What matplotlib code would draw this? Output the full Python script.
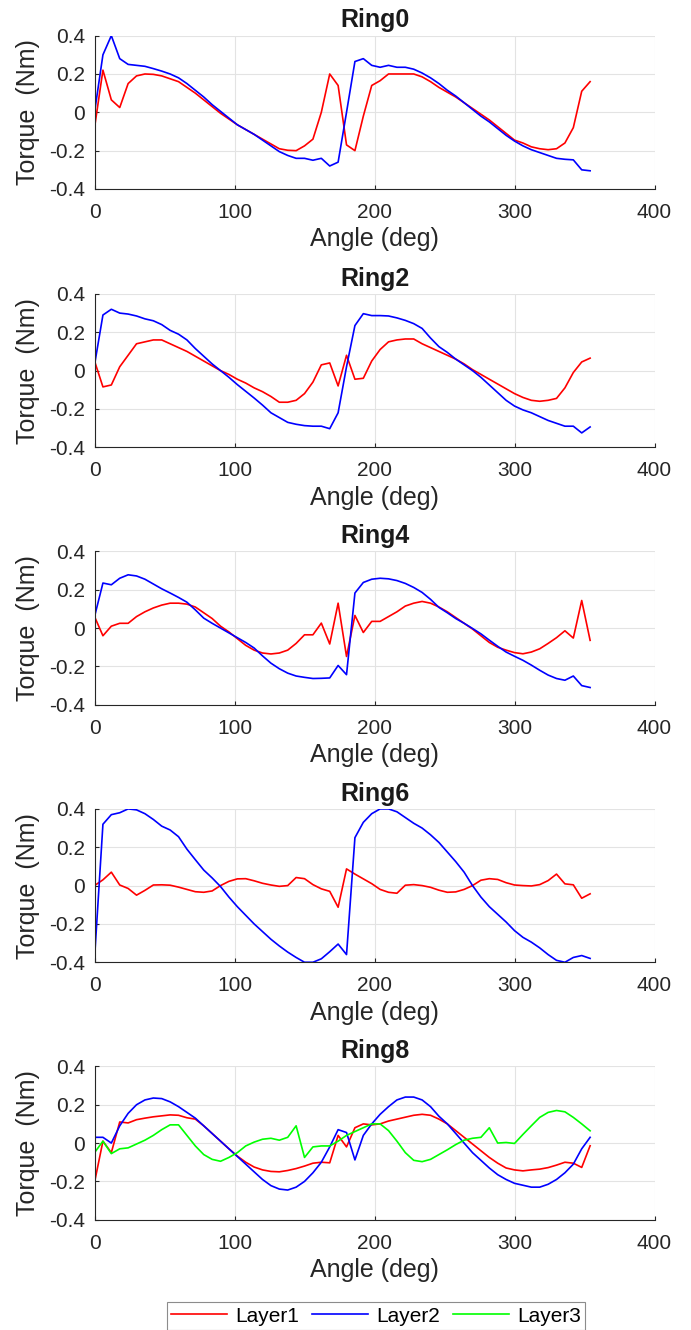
import numpy as np
import matplotlib
matplotlib.use('Agg')
import matplotlib.pyplot as plt

plt.rcParams['font.family'] = ['Liberation Sans', 'DejaVu Sans']
plt.rcParams['axes.unicode_minus'] = False

# sample angles (deg)
angle = np.arange(0, 360, 6)

ring0_layer1 = [-0.08, 0.22, 0.065, 0.025, 0.15, 0.19, 0.2, 0.198, 0.19, 0.175,
                0.16, 0.13, 0.1, 0.065, 0.03, -0.005, -0.035, -0.065, -0.09, -0.115,
                -0.14, -0.165, -0.19, -0.198, -0.2, -0.175, -0.14, 0.0, 0.2, 0.14,
                -0.17, -0.2, -0.02, 0.14, 0.165, 0.2, 0.2, 0.2, 0.2, 0.185,
                0.16, 0.13, 0.105, 0.08, 0.05, 0.02, -0.01, -0.04, -0.075, -0.11,
                -0.145, -0.16, -0.18, -0.19, -0.195, -0.19, -0.16, -0.08, 0.11, 0.16]
ring0_layer2 = [0.0, 0.3, 0.4, 0.28, 0.25, 0.245, 0.24, 0.228, 0.215, 0.2,
                0.18, 0.15, 0.115, 0.08, 0.04, 0.005, -0.03, -0.065, -0.09, -0.115,
                -0.145, -0.175, -0.205, -0.225, -0.24, -0.24, -0.25, -0.24, -0.28, -0.26,
                0.0, 0.265, 0.28, 0.245, 0.235, 0.245, 0.235, 0.235, 0.225, 0.205,
                0.18, 0.15, 0.115, 0.085, 0.05, 0.015, -0.02, -0.05, -0.085, -0.12,
                -0.15, -0.175, -0.195, -0.21, -0.225, -0.24, -0.245, -0.248, -0.3, -0.305]

ring2_layer1 = [0.05, -0.085, -0.075, 0.02, 0.08, 0.14, 0.15, 0.16, 0.16, 0.14,
                0.12, 0.1, 0.075, 0.05, 0.025, 0.0, -0.02, -0.045, -0.065, -0.09,
                -0.11, -0.135, -0.165, -0.165, -0.155, -0.12, -0.06, 0.03, 0.04, -0.08,
                0.08, -0.045, -0.04, 0.05, 0.11, 0.15, 0.16, 0.165, 0.165, 0.14,
                0.12, 0.1, 0.08, 0.06, 0.035, 0.005, -0.02, -0.045, -0.07, -0.095,
                -0.12, -0.14, -0.155, -0.16, -0.155, -0.145, -0.09, -0.01, 0.045, 0.065]
ring2_layer2 = [0.03, 0.29, 0.32, 0.3, 0.295, 0.285, 0.27, 0.26, 0.24, 0.21,
                0.19, 0.16, 0.115, 0.075, 0.035, 0.0, -0.035, -0.073, -0.108, -0.143,
                -0.18, -0.22, -0.245, -0.27, -0.28, -0.287, -0.29, -0.29, -0.303, -0.22,
                0.02, 0.235, 0.297, 0.287, 0.287, 0.285, 0.275, 0.262, 0.245, 0.22,
                0.17, 0.125, 0.095, 0.06, 0.03, 0.0, -0.035, -0.075, -0.115, -0.155,
                -0.185, -0.205, -0.22, -0.24, -0.26, -0.275, -0.29, -0.29, -0.325, -0.294]

ring4_layer1 = [0.06, -0.04, 0.01, 0.025, 0.025, 0.06, 0.085, 0.105, 0.12, 0.13,
                0.13, 0.125, 0.11, 0.08, 0.05, 0.01, -0.02, -0.055, -0.09, -0.115,
                -0.13, -0.135, -0.13, -0.115, -0.08, -0.035, -0.035, 0.026, -0.083, 0.13,
                -0.148, 0.066, -0.023, 0.035, 0.035, 0.06, 0.085, 0.115, 0.13, 0.139,
                0.13, 0.11, 0.085, 0.055, 0.025, -0.005, -0.04, -0.075, -0.1, -0.115,
                -0.128, -0.134, -0.125, -0.108, -0.08, -0.05, -0.014, -0.052, 0.144, -0.064]
ring4_layer2 = [0.06, 0.235, 0.226, 0.26, 0.278, 0.272, 0.255, 0.23, 0.205, 0.183,
                0.16, 0.135, 0.095, 0.052, 0.025, 0.0, -0.025, -0.05, -0.075, -0.104,
                -0.145, -0.183, -0.212, -0.235, -0.25, -0.257, -0.263, -0.262, -0.26, -0.195,
                -0.243, 0.183, 0.238, 0.255, 0.26, 0.257, 0.248, 0.233, 0.212, 0.186,
                0.15, 0.108, 0.08, 0.05, 0.025, -0.002, -0.03, -0.063, -0.095, -0.125,
                -0.147, -0.168, -0.193, -0.22, -0.245, -0.263, -0.272, -0.25, -0.3, -0.31]

ring6_layer1 = [0.0, 0.03, 0.07, 0.003, -0.015, -0.05, -0.025, 0.003, 0.004, 0.002,
                -0.008, -0.02, -0.032, -0.035, -0.028, 0.0, 0.022, 0.035, 0.036, 0.025,
                0.012, 0.003, -0.004, 0.0, 0.042, 0.036, 0.005, -0.017, -0.03, -0.113,
                0.087, 0.06, 0.035, 0.01, -0.02, -0.035, -0.04, 0.002, 0.005, 0.0,
                -0.009, -0.024, -0.035, -0.033, -0.02, 0.0, 0.028, 0.036, 0.032, 0.015,
                0.003, 0.0, -0.002, 0.005, 0.026, 0.06, 0.009, 0.004, -0.066, -0.043]
ring6_layer2 = [-0.38, 0.32, 0.37, 0.38, 0.4, 0.395, 0.375, 0.345, 0.31, 0.29,
                0.255, 0.19, 0.135, 0.081, 0.04, -0.005, -0.06, -0.11, -0.155, -0.2,
                -0.24, -0.28, -0.315, -0.347, -0.375, -0.4, -0.4, -0.382, -0.345, -0.305,
                -0.36, 0.25, 0.33, 0.375, 0.4, 0.4, 0.385, 0.355, 0.325, 0.3,
                0.265, 0.225, 0.175, 0.125, 0.07, 0.0, -0.06, -0.11, -0.15, -0.19,
                -0.235, -0.27, -0.295, -0.325, -0.36, -0.39, -0.4, -0.375, -0.365, -0.38]

ring8_layer1 = [-0.205, 0.01, -0.05, 0.11, 0.105, 0.122, 0.13, 0.137, 0.142, 0.147,
                0.145, 0.132, 0.125, 0.09, 0.05, 0.01, -0.03, -0.068, -0.1, -0.125,
                -0.14, -0.148, -0.15, -0.143, -0.133, -0.12, -0.105, -0.1, -0.103, 0.04,
                -0.02, 0.08, 0.1, 0.095, 0.1, 0.115, 0.125, 0.135, 0.145, 0.15,
                0.145, 0.125, 0.1, 0.065, 0.03, -0.005, -0.04, -0.075, -0.105, -0.13,
                -0.14, -0.145, -0.14, -0.136, -0.128, -0.115, -0.1, -0.105, -0.127, -0.014]
ring8_layer2 = [0.03, 0.03, 0.0, 0.09, 0.155, 0.2, 0.225, 0.235, 0.232, 0.215,
                0.19, 0.16, 0.13, 0.09, 0.05, 0.01, -0.03, -0.07, -0.11, -0.15,
                -0.19, -0.222, -0.24, -0.245, -0.23, -0.2, -0.155, -0.1, -0.02, 0.07,
                0.055, -0.088, 0.04, 0.1, 0.15, 0.19, 0.225, 0.24, 0.24, 0.225,
                0.19, 0.14, 0.1, 0.05, 0.0, -0.05, -0.09, -0.13, -0.165, -0.19,
                -0.21, -0.22, -0.23, -0.23, -0.215, -0.19, -0.155, -0.11, -0.03, 0.03]
ring8_layer3 = [-0.05, 0.01, -0.055, -0.03, -0.025, -0.005, 0.015, 0.04, 0.07, 0.095,
                0.095, 0.04, -0.015, -0.06, -0.085, -0.095, -0.075, -0.05, -0.015, 0.005,
                0.02, 0.025, 0.015, 0.03, 0.09, -0.075, -0.02, -0.015, -0.015, 0.01,
                0.04, 0.06, 0.08, 0.1, 0.1, 0.065, 0.01, -0.05, -0.09, -0.097,
                -0.085, -0.06, -0.035, -0.008, 0.015, 0.025, 0.03, 0.08, 0.0, 0.003,
                -0.002, 0.045, 0.09, 0.134, 0.16, 0.17, 0.163, 0.134, 0.1, 0.064]

titles = ['Ring0', 'Ring2', 'Ring4', 'Ring6', 'Ring8']
panels = [[ring0_layer1, ring0_layer2],
          [ring2_layer1, ring2_layer2],
          [ring4_layer1, ring4_layer2],
          [ring6_layer1, ring6_layer2],
          [ring8_layer1, ring8_layer2, ring8_layer3]]
layer_names = ['Layer1', 'Layer2', 'Layer3']
layer_colors = ['#ff0000', '#0000ff', '#00ff00']

yticks = [-0.4, -0.2, 0, 0.2, 0.4]
ytick_labels = ['-0.4', '-0.2', '0', '0.2', '0.4']
xticks = [0, 100, 200, 300, 400]

fig = plt.figure(figsize=(6.91, 13.30), dpi=100)
bottoms = [0.8579, 0.6637, 0.4701, 0.2765, 0.0829]
dark = '#262626'

for title, series, bottom in zip(titles, panels, bottoms):
    ax = fig.add_axes([0.1368, bottom, 0.8104, 0.1153])
    lines = []
    for values, name, color in zip(series, layer_names, layer_colors):
        ln, = ax.plot(angle, values, color=color, lw=1.2, label=name)
        lines.append(ln)
    ax.set_xlim(0, 400)
    ax.set_ylim(-0.4, 0.4)
    ax.set_xticks(xticks)
    ax.set_yticks(yticks)
    ax.set_yticklabels(ytick_labels)
    ax.grid(True, color='#e3e3e3', lw=0.8)
    ax.set_axisbelow(True)
    for side in ['top', 'right']:
        ax.spines[side].set_visible(False)
    for side in ['left', 'bottom']:
        ax.spines[side].set_color(dark)
        ax.spines[side].set_linewidth(0.8)
    ax.tick_params(direction='in', length=3, width=0.8, colors=dark,
                   labelsize=15)
    ax.tick_params(axis='x', pad=10)
    ax.tick_params(axis='y', pad=7)
    ax.set_title(title, fontsize=18, fontweight='bold', color='#1a1a1a', pad=6)
    ax.set_xlabel('Angle (deg)', fontsize=18, color=dark, labelpad=4)
    ax.set_ylabel('Torque  (Nm)', fontsize=18, color=dark, labelpad=6)

leg = fig.legend(handles=lines, loc='center', ncol=3,
                 bbox_to_anchor=(376 / 691, 1 - 1316 / 1330),
                 fontsize=15, handlelength=2.7, columnspacing=0.6,
                 handletextpad=0.4, borderpad=0.2, fancybox=False,
                 framealpha=1)
leg.get_frame().set_edgecolor('#8c8c8c')
leg.get_frame().set_linewidth(0.8)

fig.savefig('out.png', dpi=100)
